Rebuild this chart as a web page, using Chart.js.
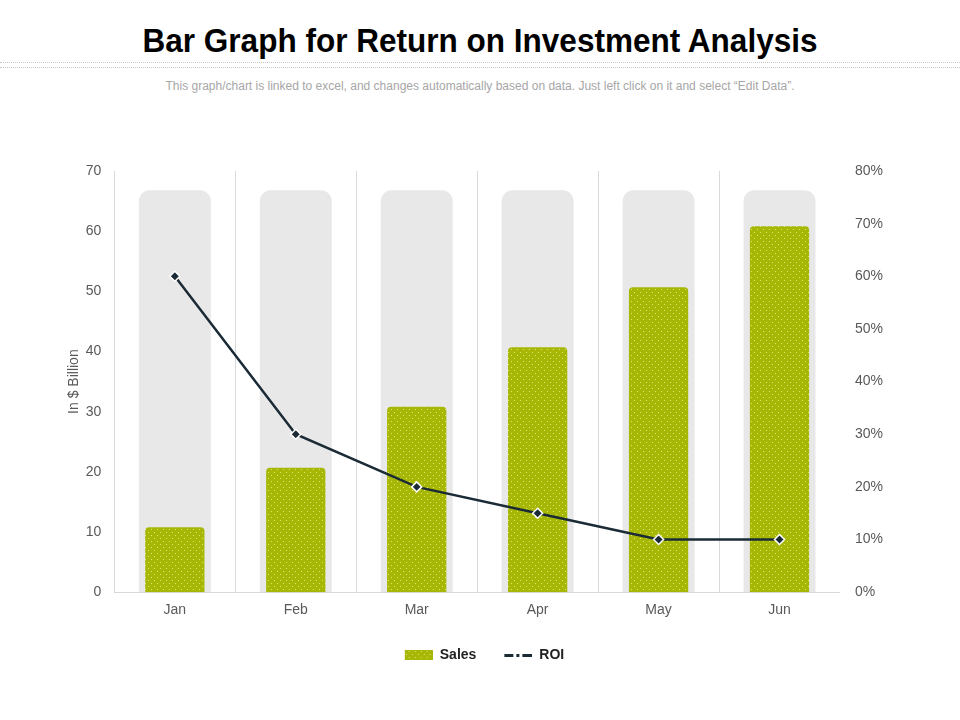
<!DOCTYPE html>
<html>
<head>
<meta charset="utf-8">
<script src="https://cdn.jsdelivr.net/npm/chart.js@4.4.1/dist/chart.umd.min.js"></script>
<style>
  html, body { margin: 0; padding: 0; background: #fff; }
  #wrap { position: relative; width: 960px; height: 720px; overflow: hidden; }
  #title {
    position: absolute; left: 0; right: 0; top: 21px; text-align: center;
    font-family: "Liberation Sans", Arial, sans-serif;
    font-weight: bold; font-size: 34px; color: #000; white-space: nowrap;
  }
  #title span { display: inline-block; transform-origin: center; }
  .dots { position: absolute; left: 0; right: 0; height: 0; border-top: 1px dotted #c8c8c8; }
  #sub {
    position: absolute; left: 0; right: 0; top: 79px; text-align: center;
    font-family: "Liberation Sans", Arial, sans-serif; font-size: 12px; color: #a6a6a6;
  }
  #c { position: absolute; left: 0; top: 0; }
</style>
</head>
<body>
<div id="wrap">
  <div id="title"><span>Bar Graph for Return on Investment Analysis</span></div>
  <div class="dots" style="top:62px"></div>
  <div class="dots" style="top:67px"></div>
  <div id="sub">This graph/chart is linked to excel, and changes automatically based on data. Just left click on it and select “Edit Data”.</div>
  <canvas id="c" width="960" height="720"></canvas>
</div>
<script>
  'use strict';

  // ── data ──────────────────────────────────────────────
  const months = ['Jan', 'Feb', 'Mar', 'Apr', 'May', 'Jun'];
  const sales = [10.8, 20.7, 30.8, 40.7, 50.7, 60.8];
  const backdrop = [66.8, 66.8, 66.8, 66.8, 66.8, 66.8];
  const roi = [60, 30, 20, 15, 10, 10];
  const salesTicks = [0, 10, 20, 30, 40, 50, 60, 70];
  const roiTicks = [0, 10, 20, 30, 40, 50, 60, 70, 80];

  const FONT = '"Liberation Sans", Arial, sans-serif';
  const OLIVE = '#a7b705';
  const NAVY = '#1b2b36';
  const AXIS_GREY = '#d9d9d9';
  const TEXT_GREY = '#595959';

  // squeeze the title to the narrow width of the original heading
  const tspan = document.querySelector('#title span');
  tspan.style.transform = 'scaleX(' + (675 / tspan.getBoundingClientRect().width) + ')';

  // dotted olive fill like the original
  function makeDots() {
    const p = document.createElement('canvas');
    p.width = 6; p.height = 6;
    const g = p.getContext('2d');
    g.fillStyle = OLIVE;
    g.fillRect(0, 0, 6, 6);
    g.fillStyle = '#dfe86a';
    g.fillRect(1, 1, 1, 1);
    g.fillRect(4, 4, 1, 1);
    return g.createPattern(p, 'repeat');
  }
  const dots = makeDots();

  // legend glyphs (content right-aligned, left part is spacing)
  const GLYPH_W = 37;
  function salesGlyph() {
    const c = document.createElement('canvas');
    c.width = GLYPH_W; c.height = 10;
    const g = c.getContext('2d');
    g.fillStyle = dots;
    g.fillRect(GLYPH_W - 28, 0, 28, 10);
    return c;
  }
  function roiGlyph() {
    const c = document.createElement('canvas');
    c.width = GLYPH_W; c.height = 10;
    const g = c.getContext('2d');
    const x0 = GLYPH_W - 28;
    g.fillStyle = NAVY;
    g.fillRect(x0, 4, 9, 3);
    g.fillRect(x0 + 12, 4, 3, 3);
    g.fillRect(x0 + 18, 4, 10, 3);
    return c;
  }

  const ctx = document.getElementById('c').getContext('2d');

  new Chart(ctx, {
    type: 'bar',
    data: {
      labels: months,
      datasets: [
        {
          type: 'line',
          label: 'ROI',
          data: roi,
          yAxisID: 'y1',
          borderColor: NAVY,
          borderWidth: 2.5,
          tension: 0,
          pointStyle: 'rectRot',
          pointRadius: 5,
          pointBackgroundColor: NAVY,
          pointBorderColor: '#fff',
          pointBorderWidth: 1.5,
          order: 0
        },
        {
          label: 'Sales',
          data: sales,
          yAxisID: 'y',
          backgroundColor: dots,
          borderRadius: 4,
          grouped: false,
          barPercentage: 0.49,
          categoryPercentage: 1,
          order: 1
        },
        {
          label: 'bg',
          data: backdrop,
          yAxisID: 'y',
          backgroundColor: '#e8e8e8',
          borderRadius: 11,
          grouped: false,
          barPercentage: 0.595,
          categoryPercentage: 1,
          order: 2
        }
      ]
    },
    options: {
      responsive: false,
      animation: false,
      layout: { padding: { top: 171, left: 62, right: 62, bottom: 48 } },
      plugins: {
        tooltip: { enabled: false },
        legend: {
          position: 'bottom',
          labels: {
            usePointStyle: true,
            pointStyleWidth: GLYPH_W,
            padding: 19,
            color: '#222',
            font: { family: FONT, size: 14, weight: 'bold' },
            generateLabels: () => [
              { text: 'Sales', pointStyle: salesGlyph(), fontColor: '#222', lineWidth: 0, datasetIndex: 1 },
              { text: 'ROI', pointStyle: roiGlyph(), fontColor: '#222', lineWidth: 0, datasetIndex: 0 }
            ]
          }
        }
      },
      scales: {
        x: {
          grid: {
            color: c => c.type === 'tick' ? AXIS_GREY : 'rgba(0,0,0,0)',
            drawTicks: false
          },
          border: { color: AXIS_GREY },
          ticks: { color: TEXT_GREY, padding: 10, font: { family: FONT, size: 14 } }
        },
        y: {
          position: 'left',
          min: 0, max: 70,
          afterBuildTicks: s => { s.ticks = salesTicks.map(v => ({ value: v })); },
          grid: { display: false, drawTicks: false },
          border: { color: AXIS_GREY },
          title: {
            display: true, text: 'In $ Billion', color: TEXT_GREY,
            padding: { top: 4, bottom: -10 },
            font: { family: FONT, size: 14 }
          },
          ticks: { color: TEXT_GREY, padding: 13, font: { family: FONT, size: 14 } }
        },
        y1: {
          position: 'right',
          min: 0, max: 80,
          afterBuildTicks: s => { s.ticks = roiTicks.map(v => ({ value: v })); },
          grid: { display: false, drawTicks: false },
          border: { display: false },
          ticks: { color: TEXT_GREY, padding: 15, font: { family: FONT, size: 14 }, callback: v => v + '%' }
        }
      }
    }
  });
</script>
</body>
</html>
